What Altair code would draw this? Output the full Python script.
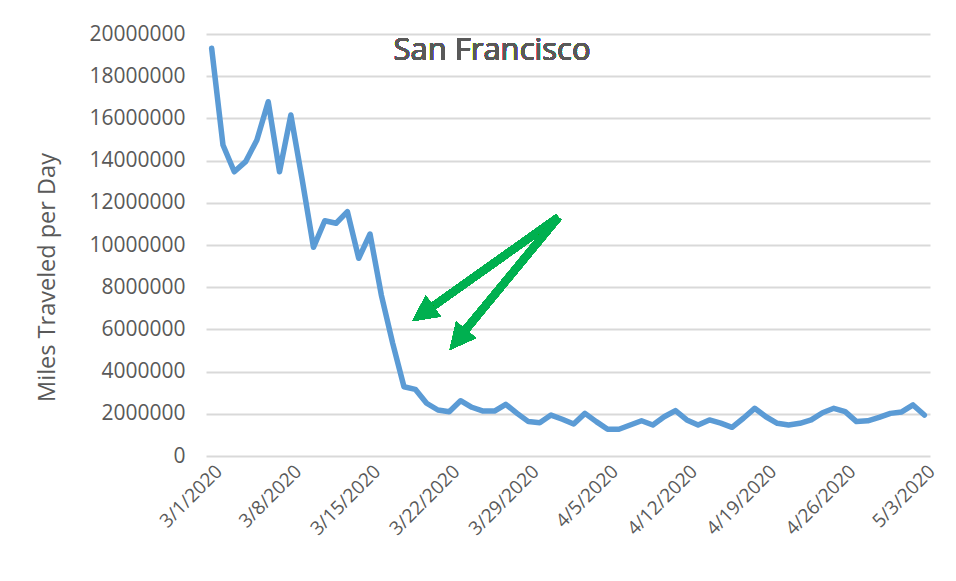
import altair as alt
import pandas as pd

# ---- data ----
start_month_days = [("3", 31), ("4", 30), ("5", 3)]
dates = [f"{m}/{d}/2020" for m, n in start_month_days for d in range(1, n + 1)]

miles = [
    19320000, 14740000, 13470000, 13950000, 14980000, 16790000, 13470000, 16160000,
    13100000, 9890000, 11150000, 11030000, 11580000, 9370000, 10520000, 7630000,
    5350000, 3280000, 3160000, 2500000, 2180000, 2100000, 2620000, 2310000,
    2130000, 2130000, 2450000, 2020000, 1630000, 1580000, 1940000,
    1740000, 1520000, 2020000, 1630000, 1270000, 1270000, 1470000, 1670000,
    1470000, 1860000, 2150000, 1710000, 1470000, 1710000, 1560000, 1360000,
    1790000, 2260000, 1860000, 1550000, 1470000, 1550000, 1710000, 2050000,
    2260000, 2100000, 1630000, 1670000, 1830000, 2020000,
    2090000, 2420000, 1940000,
]

tick_labels = ["3/1/2020", "3/8/2020", "3/15/2020", "3/22/2020", "3/29/2020",
               "4/5/2020", "4/12/2020", "4/19/2020", "4/26/2020", "5/3/2020"]
y_ticks = list(range(0, 20000001, 2000000))

title_text = "San Francisco"
y_title = "Miles Traveled per Day"

df = pd.DataFrame({"date": dates, "miles": miles})

FONT = "Open Sans"
GREY = "#595959"
GRID = "#D9D9D9"
GREEN = "#00B050"

W, H = 724, 422

x_enc = alt.X(
    "date:O", sort=None,
    scale=alt.Scale(type="point", padding=0.5),
    axis=alt.Axis(values=tick_labels, labelAngle=-45, labelAlign="right",
                  labelBaseline="middle", labelPadding=12, labelOffset=7,
                  labelFontSize=19, labelColor=GREY, labelFont=FONT,
                  domain=False, ticks=False, grid=False, title=None),
)
y_enc = alt.Y(
    "miles:Q",
    scale=alt.Scale(domain=[0, 20000000], nice=False),
    axis=alt.Axis(values=y_ticks, format="d", labelFontSize=21, labelColor=GREY,
                  labelFont=FONT, labelPadding=21, domain=False, ticks=False,
                  grid=True, gridColor=GRID, gridWidth=2,
                  title=y_title, titleFont=FONT, titleFontSize=23.5,
                  titleFontWeight="normal", titleColor=GREY,
                  titleX=-159, titleY=243, titleAlign="center",
                  titleBaseline="middle", titleAngle=-90),
)

line = alt.Chart(df).mark_line(color="#5B9BD5", strokeWidth=5.5,
                               strokeJoin="round", strokeCap="round").encode(x=x_enc, y=y_enc)

title = alt.Chart(df).mark_text(text=title_text, font=FONT, fontSize=31, color=GREY,
                                align="center", baseline="middle").encode(
    x=alt.value(286), y=alt.value(17))

# arrows (annotation, pixel positions in plot area)
tail = (352.3, 183.3)
shaft1 = alt.Chart(df).mark_rule(color=GREEN, strokeWidth=7.5).encode(
    x=alt.value(tail[0]), y=alt.value(tail[1]), x2=alt.value(226), y2=alt.value(273))
shaft2 = alt.Chart(df).mark_rule(color=GREEN, strokeWidth=7.5).encode(
    x=alt.value(tail[0]), y=alt.value(tail[1]), x2=alt.value(259), y2=alt.value(296.5))
head_shape = "M0,-1L-1,1L1,1Z"
head1 = alt.Chart(df).mark_point(shape=head_shape, filled=True, color=GREEN, opacity=1,
                                 size=650, angle=234.6).encode(
    x=alt.value(216.8), y=alt.value(279.5))
head2 = alt.Chart(df).mark_point(shape=head_shape, filled=True, color=GREEN, opacity=1,
                                 size=650, angle=219.5).encode(
    x=alt.value(251.9), y=alt.value(305.8))

chart = alt.layer(line, title, shaft1, shaft2, head1, head2).properties(
    width=W, height=H,
    autosize=alt.AutoSizeParams(type="none"),
    padding={"left": 198, "top": 26, "right": 18, "bottom": 110},
    background="white",
).configure_view(stroke=None)

chart.save("out.html", embed_options={"renderer": "svg", "actions": False})
